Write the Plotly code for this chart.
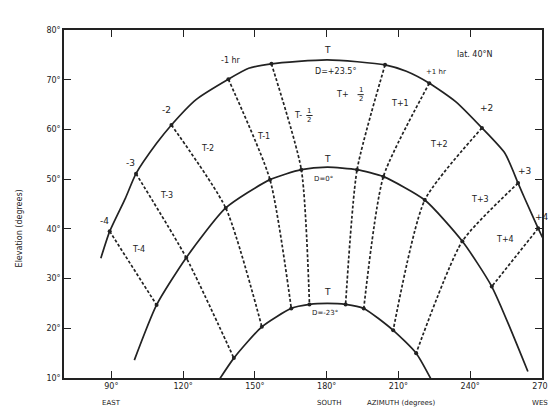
import plotly.graph_objects as go

# ---- data (azimuth deg, elevation deg) ----
summer_az = [85.6, 89.3, 95.9, 100.3, 108.9, 115.1, 125.4, 138.9, 147.4, 156.9, 180.3, 204.4, 213.3, 222.9, 233.9, 244.9, 254.5, 260.0, 262.7, 268.4, 271.0]
summer_el = [34.1, 39.5, 46.2, 51.1, 57.2, 60.9, 66.0, 70.1, 72.3, 73.2, 74.0, 73.0, 71.7, 69.3, 65.6, 60.3, 55.2, 49.2, 46.2, 40.1, 37.5]

equinox_az = [99.6, 108.9, 121.3, 137.8, 156.3, 169.4, 180.3, 192.7, 203.7, 221.0, 236.7, 249.0, 264.1]
equinox_el = [13.6, 24.7, 34.2, 44.2, 49.9, 51.9, 52.4, 51.9, 50.5, 45.8, 37.5, 28.4, 11.3]

winter_az = [133.5, 141.2, 152.9, 165.2, 172.8, 180.3, 187.9, 195.5, 207.8, 217.4, 225.0]
winter_el = [8.5, 14.0, 20.3, 24.0, 24.8, 25.0, 24.8, 24.0, 19.6, 15.0, 8.5]

hour_names = ["T-4", "T-3", "T-2", "T-1", "T-1/2", "T+1/2", "T+1", "T+2", "T+3", "T+4"]
hour_az = [
    [89.3, 108.9],
    [100.3, 121.3, 141.2],
    [115.1, 137.8, 152.9],
    [138.9, 156.3, 165.2],
    [156.9, 169.4, 172.8],
    [204.4, 192.7, 187.9],
    [222.9, 203.7, 195.5],
    [244.9, 221.0, 207.8],
    [260.0, 236.7, 217.4],
    [268.4, 249.0],
]
hour_el = [
    [39.5, 24.7],
    [51.1, 34.2, 14.0],
    [60.9, 44.2, 20.3],
    [70.1, 49.9, 24.0],
    [73.2, 51.9, 24.8],
    [73.0, 51.9, 24.8],
    [69.3, 50.5, 24.0],
    [60.3, 45.8, 19.6],
    [49.2, 37.5, 15.0],
    [40.1, 28.4],
]

x_ticks = [90, 120, 150, 180, 210, 240, 270]
x_ticktext = ["90°", "120°", "150°", "180°", "210°", "240°", "270°"]
y_ticks = [10, 20, 30, 40, 50, 60, 70, 80]
y_ticktext = ["10°", "20°", "30°", "40°", "50°", "60°", "70°", "80°"]

FONT = "DejaVu Sans"
INK = "#222222"

fig = go.Figure()

for az, el in [(summer_az, summer_el), (equinox_az, equinox_el), (winter_az, winter_el)]:
    fig.add_trace(go.Scatter(x=az, y=el, mode="lines",
                             line=dict(color=INK, width=1.7, shape="spline", smoothing=0.6),
                             hoverinfo="skip", showlegend=False))

for name, az, el in zip(hour_names, hour_az, hour_el):
    fig.add_trace(go.Scatter(x=az, y=el, mode="lines+markers", name=name,
                             line=dict(color=INK, width=1.7, dash="3px,2px", shape="spline", smoothing=0.6),
                             marker=dict(color=INK, size=4),
                             showlegend=False))

# text labels (positions are layout, in data coordinates)
labels = [
    ("-1 hr", 139.8, 73.9, 8), ("-2", 113.0, 64.0, 9), ("-3", 98.2, 53.2, 9), ("-4", 87.0, 41.6, 9),
    ("+1 hr", 225.5, 71.6, 7), ("+2", 247.0, 64.3, 9), ("+3", 262.6, 51.6, 9), ("+4", 269.8, 42.3, 9),
    ("T-4", 101.4, 35.8, 8), ("T-3", 113.0, 46.8, 8), ("T-2", 130.2, 56.2, 8), ("T-1", 153.4, 58.6, 8),
    ("T+1", 210.6, 65.3, 8), ("T+2", 227.1, 56.9, 8), ("T+3", 244.1, 46.0, 8), ("T+4", 254.5, 37.8, 8),
    ("D=+23.5°", 183.8, 71.6, 8), ("D=0°", 178.8, 50.0, 7), ("D=-23°", 179.3, 23.0, 7),
    ("T", 180.2, 76.0, 9), ("T", 180.2, 54.1, 9), ("T", 180.2, 27.3, 9),
    ("lat. 40°N", 242.0, 75.0, 8),
    ("T-", 168.0, 62.8, 8), ("T+", 186.4, 67.0, 8),
]
for txt, x, y, s in labels:
    fig.add_annotation(x=x, y=y, text=txt, showarrow=False, font=dict(family=FONT, size=s, color=INK))

# stacked "1/2" fractions of the half-hour labels, with a small fraction bar
for x, y in [(172.8, 62.8), (194.2, 67.0)]:
    fig.add_annotation(x=x, y=y, text="1<br>2", showarrow=False,
                       font=dict(family=FONT, size=7, color=INK))
    fig.add_shape(type="line", xref="x", yref="y", x0=x - 1.3, x1=x + 1.3, y0=y, y1=y,
                  line=dict(color=INK, width=1))

# axis captions
for txt, x in [("EAST", 90), ("SOUTH", 181), ("AZIMUTH (degrees)", 211), ("WEST", 270)]:
    fig.add_annotation(x=x, y=0, xref="x", yref="paper", yshift=-31, text=txt, showarrow=False,
                       font=dict(family=FONT, size=7, color=INK))
fig.add_annotation(x=-0.093, y=40, xref="paper", yref="y", xanchor="center", yanchor="middle",
                   text="Elevation (degrees)", textangle=-90,
                   showarrow=False, font=dict(family=FONT, size=8, color=INK))

axis_common = dict(showline=True, linecolor=INK, linewidth=1.6, mirror="ticks", ticks="inside",
                   ticklen=7, tickwidth=1.2, tickcolor=INK, showgrid=False, zeroline=False,
                   tickfont=dict(family=FONT, size=8, color=INK))
fig.update_xaxes(range=[70.2, 270], tickvals=x_ticks, ticktext=x_ticktext, **axis_common)
fig.update_yaxes(range=[10, 80], tickvals=y_ticks, ticktext=y_ticktext, **axis_common)

fig.update_layout(width=556, height=409, margin=dict(l=56, r=16, t=22, b=39),
                  paper_bgcolor="white", plot_bgcolor="white", showlegend=False)

fig.write_html("out.html")
